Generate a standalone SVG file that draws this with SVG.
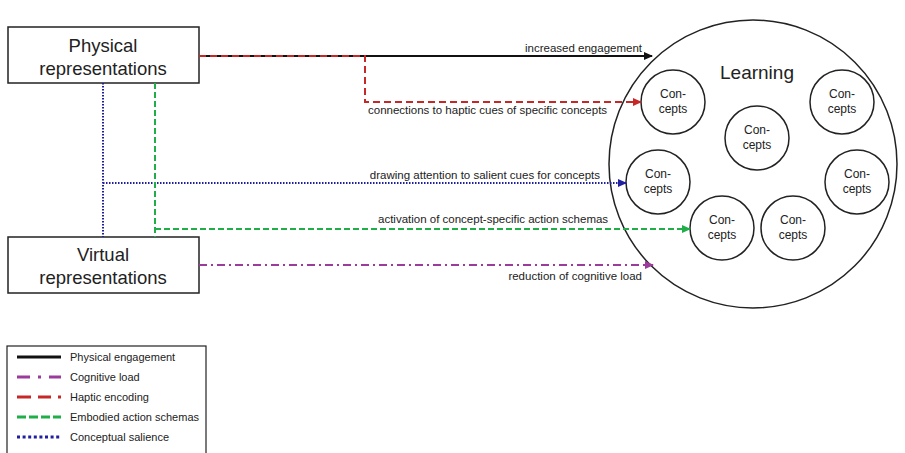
<svg xmlns="http://www.w3.org/2000/svg" width="905" height="453" viewBox="0 0 905 453">
<style>
text{font-family:"Liberation Sans",Arial,sans-serif;fill:#222}
.box{fill:#fff;stroke:#222;stroke-width:1.5}
.bt{font-size:18.5px;text-anchor:middle}
.c{fill:#fff;stroke:#222;stroke-width:1.5}
.ct{font-size:12px;text-anchor:middle}
.lbl{font-size:11.5px}
.k{fill:none;stroke:#111;stroke-width:1.8}
.r{fill:none;stroke:#c62828;stroke-width:2;stroke-dasharray:7 4}
.b{fill:none;stroke:#1f1fa0;stroke-width:2;stroke-dasharray:1.5 1.5}
.g{fill:none;stroke:#1fae48;stroke-width:2;stroke-dasharray:6 3}
.p{fill:none;stroke:#9b3b9b;stroke-width:2;stroke-dasharray:8 4 2 4}
.lg{font-size:11px}
</style>
<defs>
<marker id="ak" markerWidth="9" markerHeight="8" refX="8" refY="4" orient="auto" markerUnits="userSpaceOnUse"><path d="M0,0 L9,4 L0,8 z" fill="#111"/></marker>
<marker id="ar" markerWidth="9" markerHeight="8" refX="8" refY="4" orient="auto" markerUnits="userSpaceOnUse"><path d="M0,0 L9,4 L0,8 z" fill="#c62828"/></marker>
<marker id="ab" markerWidth="9" markerHeight="8" refX="8" refY="4" orient="auto" markerUnits="userSpaceOnUse"><path d="M0,0 L9,4 L0,8 z" fill="#1f1fa0"/></marker>
<marker id="ag" markerWidth="9" markerHeight="8" refX="8" refY="4" orient="auto" markerUnits="userSpaceOnUse"><path d="M0,0 L9,4 L0,8 z" fill="#1fae48"/></marker>
<marker id="ap" markerWidth="9" markerHeight="8" refX="8" refY="4" orient="auto" markerUnits="userSpaceOnUse"><path d="M0,0 L9,4 L0,8 z" fill="#9b3b9b"/></marker>
</defs>

<g id="learning">
<circle cx="753" cy="164" r="144" fill="#fff" stroke="#222" stroke-width="1.5"/>
<text x="757" y="79" style="font-size:19px;text-anchor:middle">Learning</text>
</g>
<g id="concept1"><circle class="c" cx="673" cy="102" r="32"/><text class="ct" x="673" y="98">Con-</text><text class="ct" x="673" y="113">cepts</text></g>
<g id="concept2"><circle class="c" cx="842" cy="102" r="32"/><text class="ct" x="842" y="98">Con-</text><text class="ct" x="842" y="113">cepts</text></g>
<g id="concept3"><circle class="c" cx="757" cy="138" r="32"/><text class="ct" x="757" y="134">Con-</text><text class="ct" x="757" y="149">cepts</text></g>
<g id="concept4"><circle class="c" cx="658" cy="182" r="32"/><text class="ct" x="658" y="178">Con-</text><text class="ct" x="658" y="193">cepts</text></g>
<g id="concept5"><circle class="c" cx="857" cy="182" r="32"/><text class="ct" x="857" y="178">Con-</text><text class="ct" x="857" y="193">cepts</text></g>
<g id="concept6"><circle class="c" cx="722" cy="228" r="32"/><text class="ct" x="722" y="224">Con-</text><text class="ct" x="722" y="239">cepts</text></g>
<g id="concept7"><circle class="c" cx="793" cy="228" r="32"/><text class="ct" x="793" y="224">Con-</text><text class="ct" x="793" y="239">cepts</text></g>

<g id="physical">
<rect class="box" x="8" y="27" width="191" height="56"/>
<text class="bt" x="103" y="52">Physical</text>
<text class="bt" x="103" y="75">representations</text>
</g>
<g id="virtual">
<rect class="box" x="8" y="237" width="191" height="56"/>
<text class="bt" x="103" y="261">Virtual</text>
<text class="bt" x="103" y="284">representations</text>
</g>

<g id="connectors">
<path class="k" d="M199,56 L652,56" marker-end="url(#ak)"/>
<path class="r" d="M199,56 L365,56 L365,102 L641,102" marker-end="url(#ar)"/>
<path class="b" d="M103,83 L103,237"/>
<path class="b" d="M103,183 L626,183" marker-end="url(#ab)"/>
<path class="g" d="M155,83 L155,237"/>
<path class="g" d="M155,229 L690,229" marker-end="url(#ag)"/>
<path class="p" d="M199,265 L653,265" marker-end="url(#ap)"/>
<text class="lbl" x="642" y="52" text-anchor="end">increased engagement</text>
<text class="lbl" x="368" y="114">connections to haptic cues of specific concepts</text>
<text class="lbl" x="600" y="179" text-anchor="end">drawing attention to salient cues for concepts</text>
<text class="lbl" x="378" y="223">activation of concept-specific action schemas</text>
<text class="lbl" x="642" y="280" text-anchor="end">reduction of cognitive load</text>
</g>

<g id="legend">
<rect x="7" y="346" width="199" height="112" fill="#fff" stroke="#222" stroke-width="1.2"/>
<line x1="17" y1="357" x2="61" y2="357" stroke="#111" stroke-width="3"/>
<line x1="17" y1="377" x2="61" y2="377" stroke="#9b3b9b" stroke-width="3" stroke-dasharray="13 8 3 8 12 20"/>
<line x1="17" y1="397" x2="61" y2="397" stroke="#c62828" stroke-width="3" stroke-dasharray="14 7 13 7 3 20"/>
<line x1="17" y1="417" x2="61" y2="417" stroke="#1fae48" stroke-width="3" stroke-dasharray="9 3"/>
<line x1="17" y1="437" x2="61" y2="437" stroke="#1f1fa0" stroke-width="3" stroke-dasharray="3 2.6"/>
<text class="lg" x="70" y="361">Physical engagement</text>
<text class="lg" x="70" y="381">Cognitive load</text>
<text class="lg" x="70" y="401">Haptic encoding</text>
<text class="lg" x="70" y="421">Embodied action schemas</text>
<text class="lg" x="70" y="441">Conceptual salience</text>
</g>
</svg>
